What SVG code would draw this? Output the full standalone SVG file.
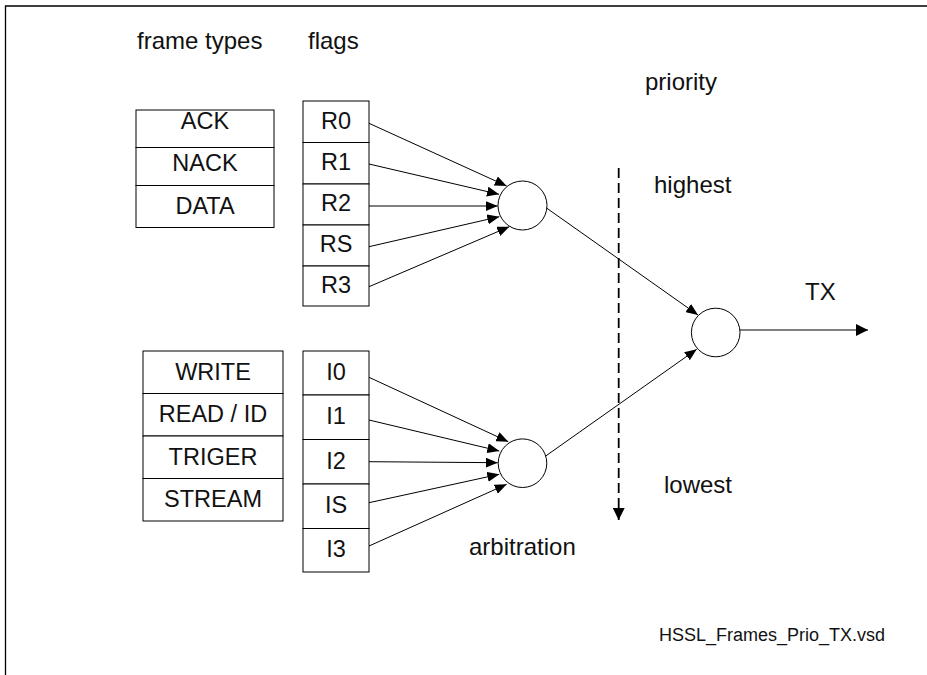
<svg xmlns="http://www.w3.org/2000/svg" width="927" height="675" viewBox="0 0 927 675">
<defs>
<marker id="ah" viewBox="0 0 12 10" refX="12" refY="5" markerWidth="12" markerHeight="10" markerUnits="userSpaceOnUse" orient="auto">
<path d="M0,0 L12,5 L0,10 z" fill="#000"/>
</marker>
<marker id="ah2" viewBox="0 0 12 12" refX="12" refY="6" markerWidth="12" markerHeight="12" markerUnits="userSpaceOnUse" orient="auto">
<path d="M0,0 L12,6 L0,12 z" fill="#000"/>
</marker>
<style>
text{font-family:"Liberation Sans",Arial,sans-serif;fill:#111}
.lbl{font-size:24px}
.bx{font-size:23.5px;text-anchor:middle}
.cell{fill:#fff;stroke:#000;stroke-width:1}
.conn{stroke:#000;stroke-width:1;fill:none;marker-end:url(#ah)}
.node{fill:#fff;stroke:#000;stroke-width:1}
</style>
</defs>
<rect width="927" height="675" fill="#fff"/>
<path d="M5.5,675 V6 H927" fill="none" stroke="#000" stroke-width="1.3"/>

<g id="labels">
<text class="lbl" x="137" y="49">frame types</text>
<text class="lbl" x="308" y="49">flags</text>
<text class="lbl" x="645" y="90">priority</text>
<text class="lbl" x="654" y="193">highest</text>
<text class="lbl" x="664" y="493">lowest</text>
<text class="lbl" x="805" y="300">TX</text>
<text class="lbl" x="469" y="555">arbitration</text>
<text x="659" y="641" style="font-size:18px">HSSL_Frames_Prio_TX.vsd</text>
</g>

<g id="frametypes-r">
<rect class="cell" x="136" y="110" width="138" height="37.5"/>
<rect class="cell" x="136" y="147.5" width="138" height="38"/>
<rect class="cell" x="136" y="185.5" width="138" height="42"/>
<text class="bx" x="205" y="128.5">ACK</text>
<text class="bx" x="205" y="171">NACK</text>
<text class="bx" x="205" y="213.5">DATA</text>
</g>

<g id="flags-r">
<rect class="cell" x="303" y="101" width="66" height="41.5"/>
<rect class="cell" x="303" y="142.5" width="66" height="41.5"/>
<rect class="cell" x="303" y="184" width="66" height="41"/>
<rect class="cell" x="303" y="225" width="66" height="41"/>
<rect class="cell" x="303" y="266" width="66" height="40"/>
<text class="bx" x="336" y="128.5">R0</text>
<text class="bx" x="336" y="170">R1</text>
<text class="bx" x="336" y="211">R2</text>
<text class="bx" x="336" y="252">RS</text>
<text class="bx" x="336" y="292.5">R3</text>
</g>

<g id="frametypes-i">
<rect class="cell" x="143" y="351" width="140" height="42.5"/>
<rect class="cell" x="143" y="393.5" width="140" height="42.5"/>
<rect class="cell" x="143" y="436" width="140" height="42.5"/>
<rect class="cell" x="143" y="478.5" width="140" height="42.5"/>
<text class="bx" x="213" y="379.5">WRITE</text>
<text class="bx" x="213" y="422">READ / ID</text>
<text class="bx" x="213" y="464.5">TRIGER</text>
<text class="bx" x="213" y="507">STREAM</text>
</g>

<g id="flags-i">
<rect class="cell" x="303" y="351" width="66" height="44"/>
<rect class="cell" x="303" y="395" width="66" height="44.5"/>
<rect class="cell" x="303" y="439.5" width="66" height="44.5"/>
<rect class="cell" x="303" y="484" width="66" height="44.5"/>
<rect class="cell" x="303" y="528.5" width="66" height="43.5"/>
<text class="bx" x="336" y="380">I0</text>
<text class="bx" x="336" y="424">I1</text>
<text class="bx" x="336" y="468.5">I2</text>
<text class="bx" x="336" y="513">IS</text>
<text class="bx" x="336" y="557">I3</text>
</g>

<g id="arb-r"><circle class="node" cx="522.5" cy="205.5" r="24.5"/></g>
<g id="arb-i"><circle class="node" cx="522.5" cy="463.2" r="24.3"/></g>
<g id="arb-tx"><circle class="node" cx="715.7" cy="332.5" r="24.3"/></g>

<g id="connectors">
<line class="conn" x1="369" y1="123.3" x2="506.7" y2="186"/>
<line class="conn" x1="369" y1="164" x2="499" y2="194.3"/>
<line class="conn" x1="369" y1="206" x2="497.7" y2="206"/>
<line class="conn" x1="369" y1="246.7" x2="499.3" y2="216.7"/>
<line class="conn" x1="369" y1="286.7" x2="509.3" y2="226.7"/>
<line class="conn" x1="369" y1="377.3" x2="508.3" y2="441.7"/>
<line class="conn" x1="369" y1="420" x2="499.3" y2="451"/>
<line class="conn" x1="369" y1="461.7" x2="497.7" y2="462.7"/>
<line class="conn" x1="369" y1="502.7" x2="499.3" y2="474.3"/>
<line class="conn" x1="369" y1="546" x2="506.7" y2="484.3"/>
<line class="conn" x1="546.5" y1="208" x2="698" y2="315"/>
<line class="conn" x1="545.7" y1="456" x2="696.7" y2="349.3"/>
<line x1="740" y1="330" x2="868" y2="330" stroke="#000" stroke-width="1.2" marker-end="url(#ah2)"/>
<line x1="618.7" y1="168" x2="618.7" y2="520" stroke="#000" stroke-width="1.8" stroke-dasharray="10,5" marker-end="url(#ah2)"/>
</g>
</svg>
